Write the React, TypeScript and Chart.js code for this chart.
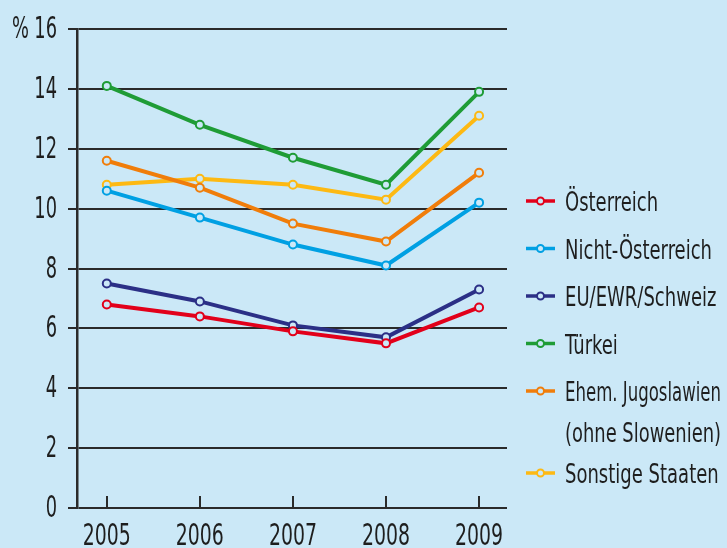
import React, { useEffect, useRef } from 'react';
import { Chart, registerables } from 'chart.js';

Chart.register(...registerables);

const years = [2005, 2006, 2007, 2008, 2009];
const oesterreich = [6.8, 6.4, 5.9, 5.5, 6.7];
const nichtOesterreich = [10.6, 9.7, 8.8, 8.1, 10.2];
const euEwrSchweiz = [7.5, 6.9, 6.1, 5.7, 7.3];
const tuerkei = [14.1, 12.8, 11.7, 10.8, 13.9];
const exJugoslawien = [11.6, 10.7, 9.5, 8.9, 11.2];
const sonstigeStaaten = [10.8, 11.0, 10.8, 10.3, 13.1];
const yTickValues = [0, 2, 4, 6, 8, 10, 12, 14, 16];

const seriesNames = [
  'Österreich',
  'Nicht-Österreich',
  'EU/EWR/Schweiz',
  'Türkei',
  'Ehem. Jugoslawien\n(ohne Slowenien)',
  'Sonstige Staaten',
];
const seriesValues = [oesterreich, nichtOesterreich, euEwrSchweiz, tuerkei, exJugoslawien, sonstigeStaaten];
const seriesColors = ['#e2001a', '#00a0e3', '#2b2f86', '#1f9c36', '#f07d0a', '#fdb913'];

const BG = '#cbe8f7';
const INK = '#2a2a2a';
const TEXT = '#1e1e1e';
const FONT = "'DejaVu Sans Condensed', 'DejaVu Sans', sans-serif";

// draw horizontally condensed text (the reference uses a narrow typeface)
function condensedText(ctx: any, text: string, x: number, y: number, size: number, sx: number, align: string, maxW?: number) {
  ctx.save();
  ctx.font = `${size}px ${FONT}`;
  ctx.fillStyle = TEXT;
  ctx.textBaseline = 'alphabetic';
  ctx.textAlign = align;
  let s = sx;
  if (maxW) {
    const w = ctx.measureText(text).width;
    s = Math.min(sx, maxW / w);
  }
  ctx.translate(x, y);
  ctx.scale(s, 1);
  ctx.fillText(text, 0, 0);
  ctx.restore();
}

const decorPlugin = {
  id: 'decor',
  beforeDatasetsDraw(chart: any) {
    const ctx = chart.ctx;
    const xs = chart.scales.x;
    const ys = chart.scales.y;
    const area = chart.chartArea;
    ctx.save();
    ctx.strokeStyle = INK;
    ctx.lineWidth = 2;
    xs.ticks.forEach((t: any) => {
      const px = Math.round(xs.getPixelForValue(t.value));
      ctx.beginPath();
      ctx.moveTo(px, area.bottom);
      ctx.lineTo(px, area.bottom - 12);
      ctx.stroke();
    });
    ctx.restore();
    // x tick labels
    xs.ticks.forEach((t: any) => {
      const px = xs.getPixelForValue(t.value);
      condensedText(ctx, String(t.value), px, 545, 30, 0.7, 'center');
    });
    // y tick labels
    ys.ticks.forEach((t: any) => {
      const py = ys.getPixelForValue(t.value);
      condensedText(ctx, String(t.value), 57, py + 9, 30, 0.66, 'right');
      if (t.value === 16) condensedText(ctx, '%', 29, py + 9, 30, 0.66, 'right');
    });
  },
  afterDraw(chart: any) {
    const ctx = chart.ctx;
    ctx.save();
    let y = 201;
    const x0 = 526;
    const x1 = 555;
    const tx = 565;
    chart.data.datasets.forEach((ds: any) => {
      const lines = String(ds.label).split('\n');
      ctx.strokeStyle = ds.borderColor;
      ctx.lineWidth = 3.5;
      ctx.beginPath();
      ctx.moveTo(x0, y);
      ctx.lineTo(x1, y);
      ctx.stroke();
      ctx.beginPath();
      ctx.arc((x0 + x1) / 2, y, 3.5, 0, Math.PI * 2);
      ctx.fillStyle = BG;
      ctx.fill();
      ctx.lineWidth = 2;
      ctx.stroke();
      lines.forEach((ln: string, i: number) => {
        condensedText(ctx, ln, tx, y + 10 + i * 41, 26, 0.77, 'left', 156);
      });
      y += 47.5 + (lines.length - 1) * 34.5;
    });
    ctx.restore();
  },
};

export default function App() {
  const canvasRef = useRef<HTMLCanvasElement | null>(null);

  useEffect(() => {
    document.body.style.margin = '0';
    document.body.style.background = BG;
    const canvas = canvasRef.current;
    if (!canvas) return;
    const chart = new Chart(canvas, {
      type: 'line',
      data: {
        datasets: seriesNames.map((name, i) => ({
          label: name,
          data: years.map((yr, j) => ({ x: yr, y: seriesValues[i][j] })),
          borderColor: seriesColors[i],
          backgroundColor: seriesColors[i],
          borderWidth: 4,
          pointRadius: 4,
          pointBorderWidth: 2,
          pointBackgroundColor: BG,
          pointBorderColor: seriesColors[i],
          tension: 0,
          fill: false,
        })),
      },
      options: {
        animation: false,
        responsive: true,
        maintainAspectRatio: false,
        layout: { padding: { top: 29, right: 220, bottom: 0, left: 0 } },
        plugins: {
          legend: { display: false },
          tooltip: { enabled: false },
        },
        scales: {
          x: {
            type: 'linear',
            min: 2004.68,
            max: 2009.3,
            afterBuildTicks: (scale: any) => {
              scale.ticks = years.map((v) => ({ value: v }));
            },
            afterFit: (scale: any) => {
              scale.height = 40;
            },
            grid: { display: false, drawTicks: false },
            border: { display: false },
            ticks: { display: false },
          },
          y: {
            min: 0,
            max: 16,
            afterBuildTicks: (scale: any) => {
              scale.ticks = yTickValues.map((v) => ({ value: v }));
            },
            afterFit: (scale: any) => {
              scale.width = 77;
            },
            grid: {
              color: INK,
              lineWidth: 2,
              drawTicks: true,
              tickLength: 9,
            },
            border: { display: true, color: INK, width: 2.5 },
            ticks: { display: false },
          },
        },
      },
      plugins: [decorPlugin],
    });
    return () => chart.destroy();
  }, []);

  return (
    <div style={{ width: 727, height: 548, position: 'relative', background: BG }}>
      <canvas ref={canvasRef} />
    </div>
  );
}
